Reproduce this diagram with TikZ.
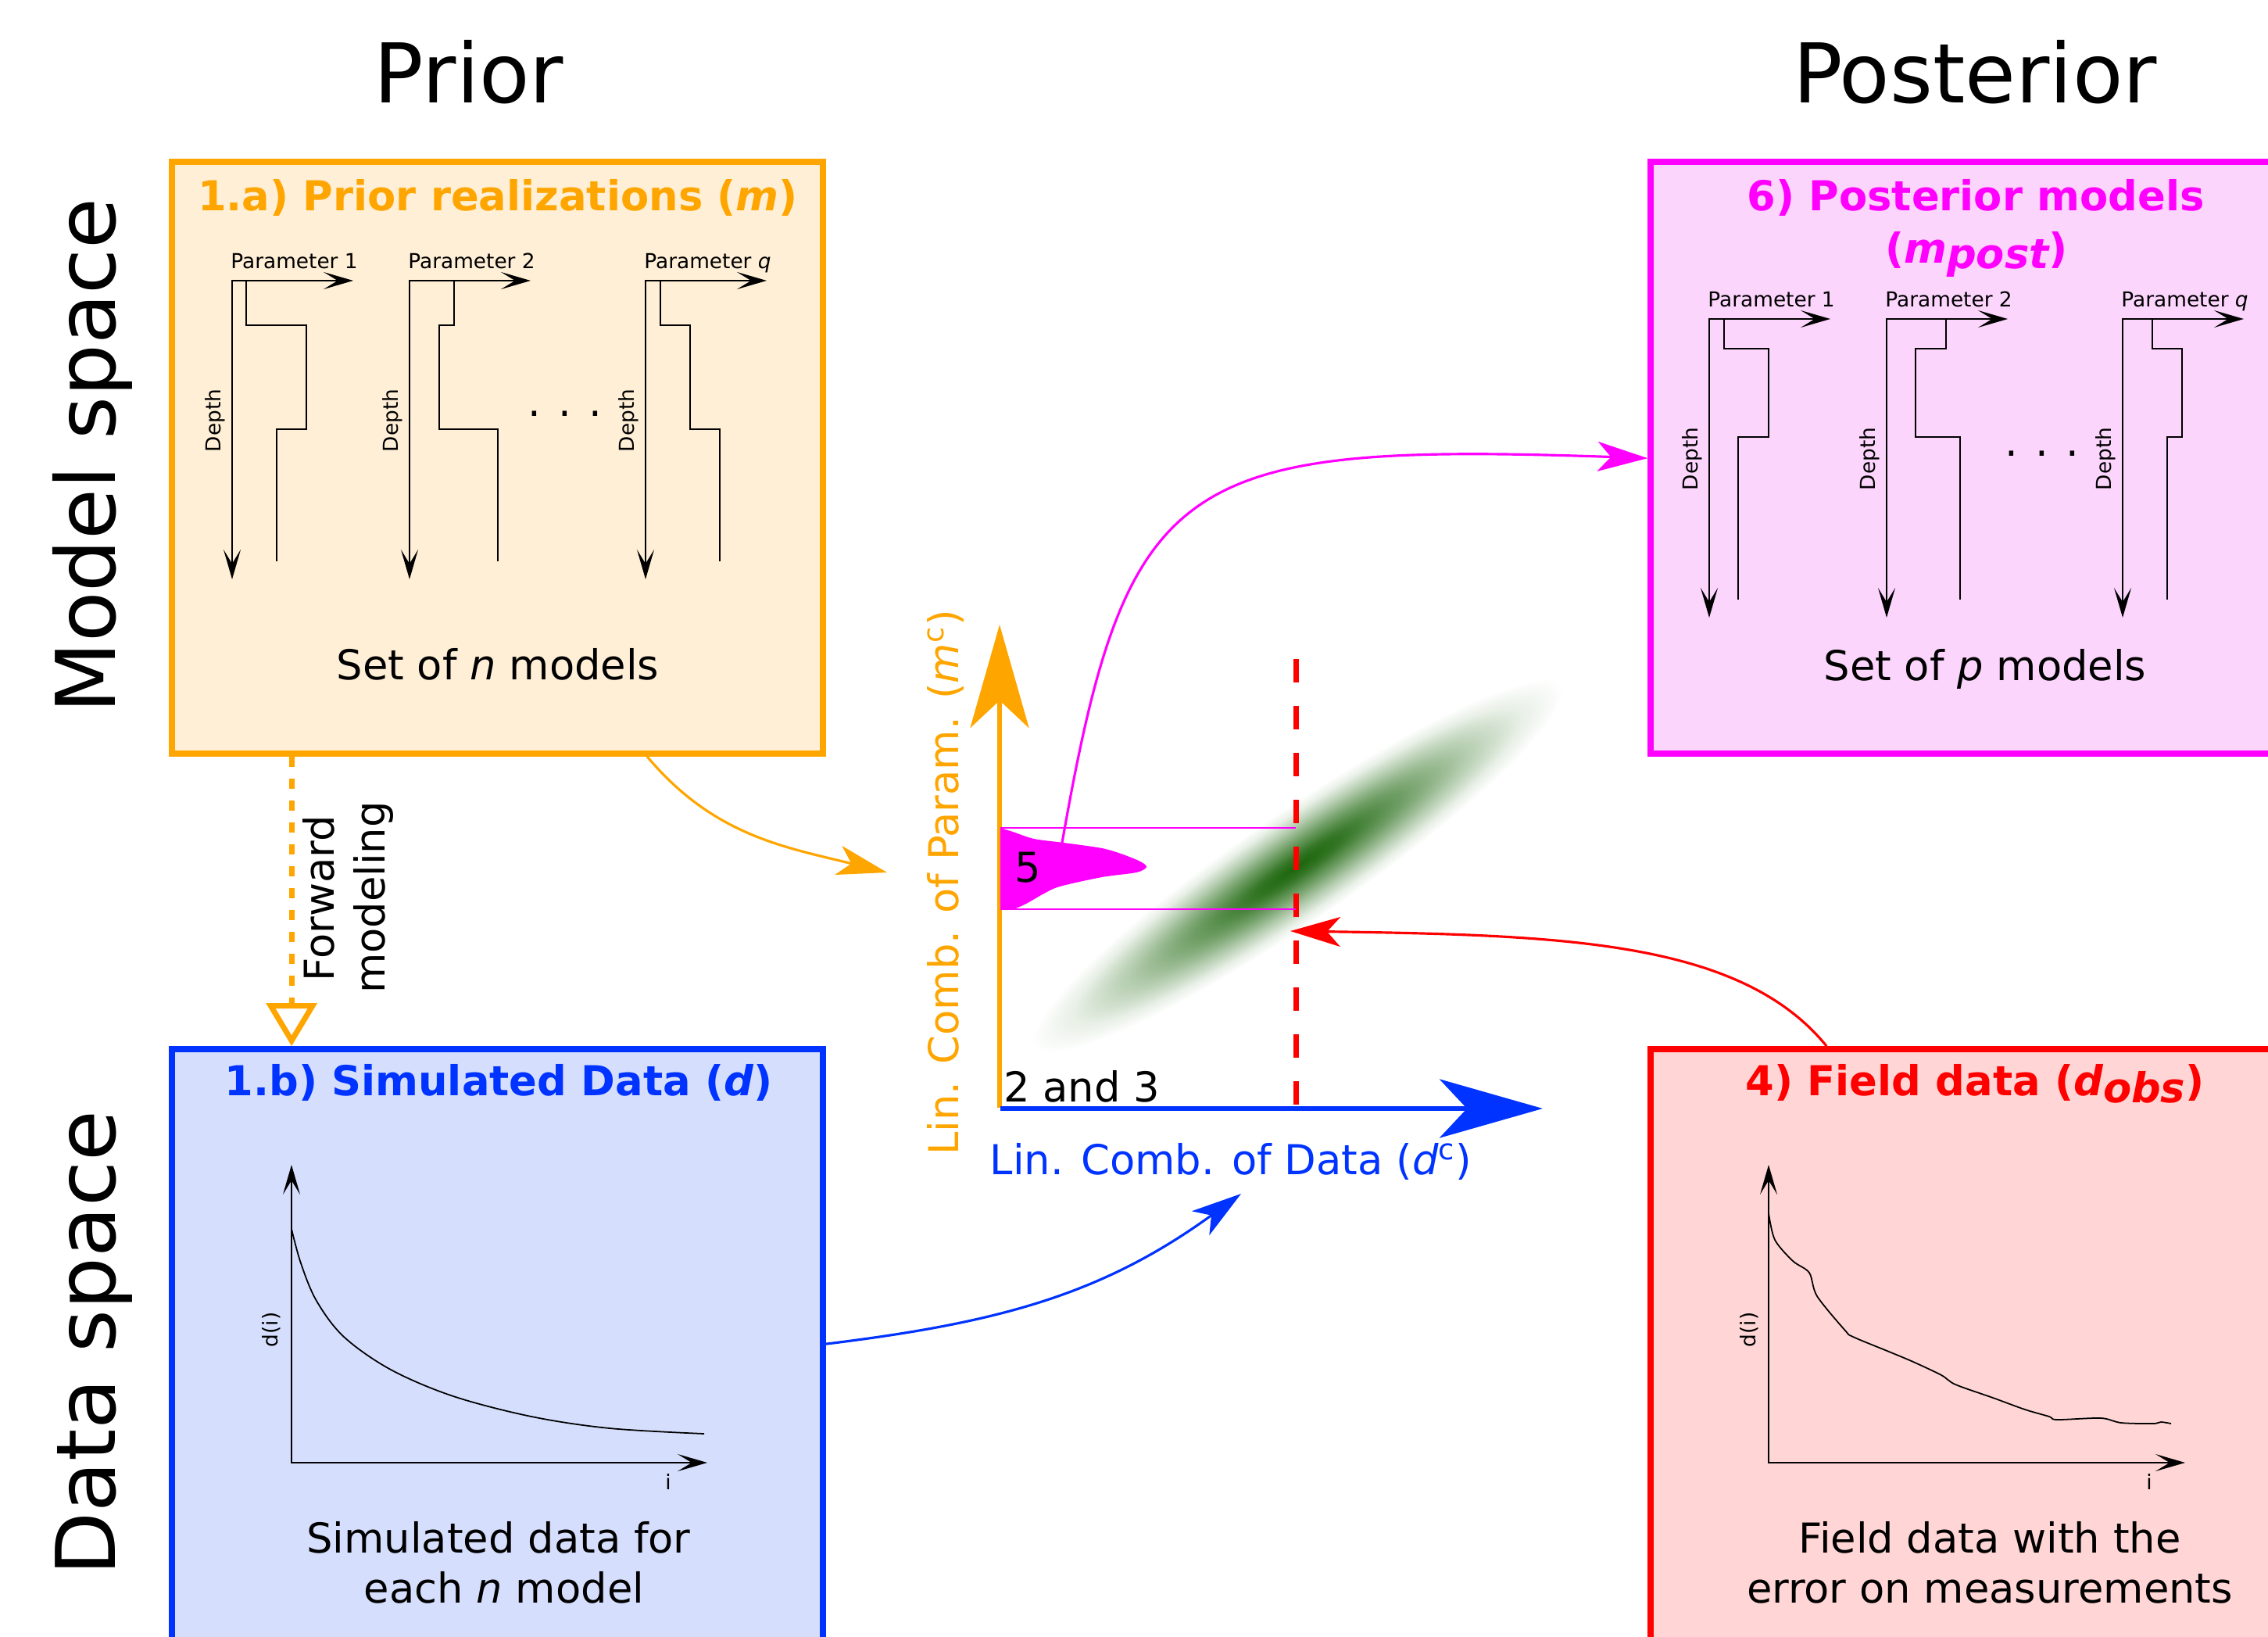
\documentclass[tikz,border=0pt]{standalone}
\usepackage{fontspec}
\setmainfont{DejaVu Sans}
\usetikzlibrary{arrows.meta,calc}
\definecolor{priororange}{RGB}{255,165,0}
\definecolor{priorfill}{RGB}{255,239,214}
\definecolor{simblue}{RGB}{0,51,255}
\definecolor{simfill}{RGB}{213,222,252}
\definecolor{postmagenta}{RGB}{255,0,255}
\definecolor{postfill}{RGB}{252,213,252}
\definecolor{fieldred}{RGB}{255,0,0}
\definecolor{fieldfill}{RGB}{255,213,213}
\definecolor{densgreen}{RGB}{28,102,12}
\pgfdeclareradialshading{densfade}{\pgfpoint{0bp}{0bp}}{color(0bp)=(densgreen); color(4bp)=(densgreen!90!white); color(10bp)=(densgreen!62!white); color(16bp)=(densgreen!32!white); color(21bp)=(densgreen!10!white); color(25bp)=(white); color(50bp)=(white)}

\begin{document}
\begin{tikzpicture}[
  x=1cm,y=1cm,font=\fontsize{15}{18}\selectfont,
  box/.style={draw,line width=2.2pt,minimum width=8.33cm,inner sep=0pt},
  ttl/.style={font=\fontsize{15}{18}\selectfont\bfseries,anchor=base},
  body/.style={anchor=base},
  bigtext/.style={font=\fontsize{30}{36}\selectfont,anchor=base},
  smalltext/.style={font=\fontsize{7.5}{9}\selectfont},
  ax/.style={{Stealth[length=0.38cm,width=0.22cm,inset=0.18cm]}-{Stealth[length=0.38cm,width=0.22cm,inset=0.18cm]},line width=0.6pt},
  stepline/.style={line width=0.5pt},
  bigax/.style={-{Stealth[length=1.32cm,width=0.75cm,inset=0.35cm]},line width=1.9pt},
  link/.style={-{Stealth[length=0.64cm,width=0.38cm,inset=0.17cm]},line width=0.9pt},
  fwd/.style={-{Triangle[open,length=0.55cm,width=0.64cm]},line width=2pt,dash pattern=on 0.13cm off 0.15cm}
]
\useasboundingbox (0,0) rectangle (29.02,-20.93);
\clip (0,0) rectangle (29.02,-20.93);
% ---------- headings
\node[bigtext] (priorhd) at (6.00,-1.32) {Prior};
\node[bigtext] (posthd)  at (25.27,-1.32) {Posterior};
\node[bigtext,rotate=90] (modelsp) at (1.47,-5.83) {Model space};
\node[bigtext,rotate=90] (datasp)  at (1.47,-17.18) {Data space};
% ---------- boxes
\node[box,draw=priororange,fill=priorfill,minimum height=7.57cm] (prior) at (6.365,-5.855) {};
\node[box,draw=postmagenta,fill=postfill,minimum height=7.57cm] (post) at (25.285,-5.855) {};
\node[box,draw=simblue,fill=simfill,minimum height=8.0cm] (simdata) at (6.365,-17.42) {};
\node[box,draw=fieldred,fill=fieldfill,minimum height=8.0cm] (field) at (25.285,-17.42) {};
\node[ttl,text=priororange] (priorttl) at (6.37,-2.69) {1.a) Prior realizations (\textit{m})};
\node[ttl,text=postmagenta] (postttl)  at (25.28,-2.69) {6) Posterior models};
\node[ttl,text=postmagenta] (postttlb) at (25.29,-3.36) {(\textit{m\raisebox{-0.15em}{post}})};
\node[ttl,text=simblue] (simttl)   at (6.38,-14.01) {1.b) Simulated Data (\textit{d})};
\node[ttl,text=fieldred] (fieldttl) at (25.27,-14.01) {4) Field data (\textit{d\raisebox{-0.18em}{obs}})};
% ---------- parameter profiles
\foreach \ox/\oy/\a/\b/\c/\sa/\sb/\lab [count=\i] in {
  2.97/-3.59/0.18/0.95/0.57/0.57/1.90/{Parameter 1},
  5.24/-3.59/0.57/0.38/1.13/0.57/1.90/{Parameter 2},
  8.26/-3.59/0.19/0.57/0.95/0.57/1.90/{Parameter \textit{q}},
  21.87/-4.08/0.19/0.76/0.37/0.38/1.51/{Parameter 1},
  24.14/-4.08/0.76/0.37/0.94/0.38/1.51/{Parameter 2},
  27.16/-4.08/0.38/0.76/0.57/0.38/1.51/{Parameter \textit{q}}}{
  \draw[ax] (\ox+1.55,\oy) -- (\ox,\oy) -- (\ox,\oy-3.82);
  \draw[stepline] (\ox+\a,\oy) -- ++(0,-\sa) -| (\ox+\b,\oy-\sb) -| (\ox+\c,\oy-3.59);
  \node[smalltext,anchor=base west] (par\i) at (\ox-0.14,\oy+0.16) {\lab};
  \node[smalltext,rotate=90,anchor=base] (depth\i) at (\ox-0.15,\oy-1.79) {Depth};
}
\node[body] (dotsa) at (7.23,-5.32) {. . .};
\node[body] (dotsb) at (26.13,-5.83) {. . .};
\node[body] (setn) at (6.37,-8.69) {Set of \textit{n} models};
\node[body] (setp) at (25.40,-8.70) {Set of \textit{p} models};
% ---------- data curves
\draw[ax] (3.73,-14.90) -- (3.73,-18.71) -- (9.05,-18.71);
\draw[stepline] plot[smooth,tension=0.55] coordinates {(3.73,-15.72) (3.85,-16.16) (4.05,-16.64) (4.40,-17.10) (5.00,-17.52) (5.80,-17.86) (6.80,-18.12) (7.80,-18.27) (9.01,-18.34)};
\node[smalltext,rotate=90] (dia) at (3.47,-17.01) {d(i)};
\node[smalltext] (ia) at (8.55,-18.95) {i};
\node[body] (simtxt)  at (6.38,-19.86) {Simulated data for};
\node[body] (simtxtb) at (6.45,-20.50) {each \textit{n} model};
\draw[ax] (22.63,-14.90) -- (22.63,-18.71) -- (27.96,-18.71);
\draw[stepline] plot[smooth,tension=0.5] coordinates {(22.63,-15.52) (22.71,-15.86) (22.94,-16.13) (23.15,-16.28) (23.25,-16.58) (23.61,-17.02) (23.71,-17.10) (24.17,-17.29) (24.48,-17.42) (24.84,-17.59) (25.02,-17.71) (25.50,-17.88) (25.91,-18.03) (26.22,-18.12) (26.32,-18.16) (26.88,-18.14) (27.14,-18.20) (27.55,-18.21) (27.65,-18.19) (27.78,-18.21)};
\node[smalltext,rotate=90] (dib) at (22.38,-17.01) {d(i)};
\node[smalltext] (ib) at (27.50,-18.95) {i};
\node[body] (fieldtxt)  at (25.46,-19.86) {Field data with the};
\node[body] (fieldtxtb) at (25.46,-20.50) {error on measurements};
% ---------- reduced space
\shade[shading=densfade,transform canvas={shift={(16.60,-11.08)},rotate=34.5}] (0,0) ellipse (4.1 and 0.7);
\draw[bigax,color=priororange] (12.79,-14.17) -- (12.79,-7.99);
\draw[bigax,color=simblue] (12.80,-14.18) -- (19.74,-14.18);
\draw[fieldred,line width=2pt,dash pattern=on 0.3cm off 0.3cm] (16.58,-8.43) -- (16.58,-14.17);
\draw[postmagenta,line width=0.6pt] (12.80,-10.59) -- (16.58,-10.59);
\draw[postmagenta,line width=0.6pt] (12.80,-11.63) -- (16.58,-11.63);
\fill[postmagenta] plot[smooth,tension=0.5] coordinates {(12.80,-10.59) (12.96,-10.64) (13.23,-10.73) (13.61,-10.78) (14.10,-10.85) (14.37,-10.93) (14.59,-11.02) (14.67,-11.09) (14.54,-11.16) (14.10,-11.22) (13.56,-11.34) (13.34,-11.44) (13.13,-11.56) (12.96,-11.63) (12.80,-11.63)} -- cycle;
\node[body] (five) at (13.15,-11.28) {5};
\node[body,anchor=base west] (twothree) at (12.72,-14.09) {2 and 3};
\node[body,text=simblue] (dlab) at (15.75,-15.02) {Lin. Comb. of Data (\textit{d}\textsuperscript{c})};
\node[body,text=priororange,rotate=90] (mlab) at (12.26,-11.29) {Lin. Comb. of Param. (\textit{m}\textsuperscript{c})};
\coordinate (mcin)  at (11.35,-11.16);
\coordinate (dcin)  at (15.88,-15.27);
\coordinate (obsin) at (16.51,-11.91);
\coordinate (pdfpk) at (13.59,-10.78);
% ---------- connectors
\draw[fwd,draw=priororange] ([xshift=1.57cm]prior.south west) -- ([xshift=1.57cm]simdata.north west);
\node[body,rotate=90] (fwdlab)  at (4.27,-11.49) {Forward};
\node[body,rotate=90] (fwdlabb) at (4.92,-11.48) {modeling};
\draw[link,color=priororange] ([xshift=6.12cm]prior.south west) to[out=-50,in=166] (mcin);
\draw[link,color=simblue] ([yshift=-3.81cm]simdata.north east) to[out=7,in=216] (dcin);
\draw[link,color=fieldred] ([xshift=2.29cm]field.north west) .. controls +(-1.10,1.35) and +(3.50,-0.05) .. (obsin);
\draw[link,color=postmagenta] (pdfpk) .. controls +(0.83,4.73) and +(-6.00,0.21) .. ([yshift=-3.83cm]post.north west);
\end{tikzpicture}
\end{document}
